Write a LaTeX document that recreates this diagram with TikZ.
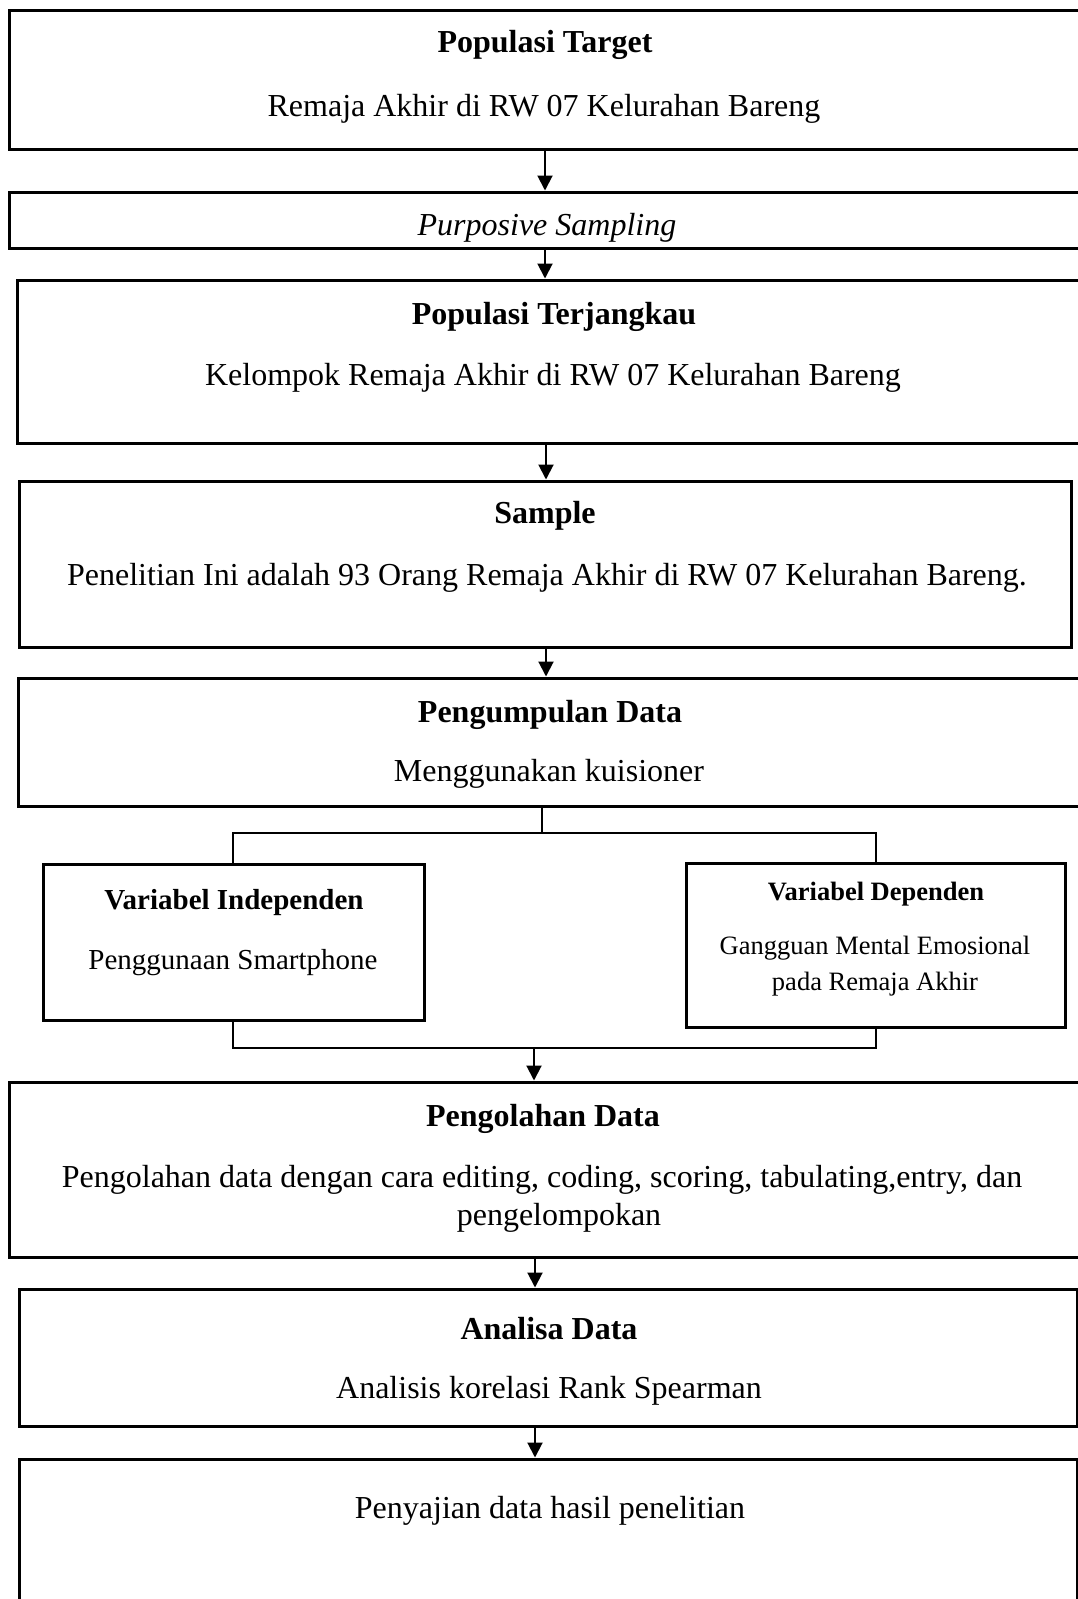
\documentclass[tikz,border=0pt]{standalone}
\usepackage{fontspec}
\setmainfont{Liberation Serif}
\usetikzlibrary{arrows.meta}
\tikzset{
  boxshape/.style={draw=black, line width=3pt, rectangle, inner sep=0pt},
  maintxt/.style={font=\fontsize{32}{38}\selectfont, inner sep=0pt, align=center},
  vartxt/.style={font=\fontsize{29}{36}\selectfont, inner sep=0pt, align=center},
  deptxt/.style={font=\fontsize{26.5}{37}\selectfont, inner sep=0pt, align=center},
  arr/.style={line width=2pt, -{Triangle[width=15pt,length=15pt]}},
  link/.style={line width=1.6pt},
}
\newcommand{\mybox}[5]{% name, x1, y1, x2, y2
  \node[boxshape, minimum width={(#4)-(#2)}, minimum height={(#5)-(#3)}] (#1) at ({((#2)+(#4))/2},{((#3)+(#5))/2}) {};}
\begin{document}
\begin{tikzpicture}[x=1pt,y=-1pt]
\useasboundingbox (0,0) rectangle (1078,1599);
\clip (0,0) rectangle (1078,1599);
% boxes
\mybox{b1}{9}{10}{1095}{149}
\mybox{b2}{9}{192}{1095}{248}
\mybox{b3}{17}{280}{1095}{443}
\mybox{b4}{19}{481}{1071}{647}
\mybox{b5}{18}{678}{1095}{806}
\mybox{b6}{43}{864}{424}{1020}
\mybox{b7}{686}{863}{1065}{1027}
\mybox{b8}{9}{1082}{1095}{1257}
\mybox{b9}{19}{1289}{1077}{1426}
\mybox{b10}{19}{1459}{1077}{1640}
% texts
\node[maintxt, font=\fontsize{32}{38}\selectfont\bfseries] (t1a) at (545,45) {Populasi Target};
\node[maintxt] (t1b) at (544,109) {Remaja Akhir di RW 07 Kelurahan Bareng};
\node[maintxt, font=\fontsize{32}{38}\selectfont\itshape] (t2) at (547,228) {Purposive Sampling};
\node[maintxt, font=\fontsize{32}{38}\selectfont\bfseries] (t3a) at (554,317) {Populasi Terjangkau};
\node[maintxt] (t3b) at (553,378) {Kelompok Remaja Akhir di RW 07 Kelurahan Bareng};
\node[maintxt, font=\fontsize{32}{38}\selectfont\bfseries] (t4a) at (545,516) {Sample};
\node[maintxt] (t4b) at (547,578) {Penelitian Ini adalah 93 Orang Remaja Akhir di RW 07 Kelurahan Bareng.};
\node[maintxt, font=\fontsize{32}{38}\selectfont\bfseries] (t5a) at (550,715) {Pengumpulan Data};
\node[maintxt] (t5b) at (549,774) {Menggunakan kuisioner};
\node[vartxt, font=\fontsize{29}{36}\selectfont\bfseries] (t6a) at (234,903) {Variabel Independen};
\node[vartxt] (t6b) at (233,963) {Penggunaan Smartphone};
\node[deptxt, font=\fontsize{26.5}{37}\selectfont\bfseries] (t7a) at (876,894) {Variabel Dependen};
\node[deptxt] (t7b) at (875,948) {Gangguan Mental Emosional};
\node[deptxt] (t7c) at (875,984) {pada Remaja Akhir};
\node[maintxt, font=\fontsize{32}{38}\selectfont\bfseries] (t8a) at (543,1119) {Pengolahan Data};
\node[maintxt] (t8b) at (542,1180) {Pengolahan data dengan cara editing, coding, scoring, tabulating,entry, dan};
\node[maintxt] (t8c) at (559,1218) {pengelompokan};
\node[maintxt, font=\fontsize{32}{38}\selectfont\bfseries] (t9a) at (549,1329) {Analisa Data};
\node[maintxt] (t9b) at (549,1391) {Analisis korelasi Rank Spearman};
\node[maintxt] (t10) at (550,1511) {Penyajian data hasil penelitian};
% connector x positions
\coordinate (xa) at (545,0);
\coordinate (xb) at (546,0);
\coordinate (xc) at (542,0);
\coordinate (xl) at (233,0);
\coordinate (xr) at (876,0);
\coordinate (xd) at (534,0);
\coordinate (xe) at (535,0);
\coordinate (top) at (0,833);
\coordinate (bot) at (0,1048);
% arrows
\draw[arr] (xa |- b1.south) -- (xa |- b2.north);
\draw[arr] (xa |- b2.south) -- (xa |- b3.north);
\draw[arr] (xb |- b3.south) -- (xb |- b4.north);
\draw[arr] (xb |- b4.south) -- (xb |- b5.north);
% split
\draw[link] (xc |- b5.south) -- (xc |- top);
\draw[link] (xl |- b6.north) -- (xl |- top) -- (xr |- top) -- (xr |- b7.north);
\draw[link] (xl |- b6.south) -- (xl |- bot) -- (xr |- bot) -- (xr |- b7.south);
\draw[arr] (xd |- bot) -- (xd |- b8.north);
\draw[arr] (xe |- b8.south) -- (xe |- b9.north);
\draw[arr] (xe |- b9.south) -- (xe |- b10.north);
\end{tikzpicture}
\end{document}
